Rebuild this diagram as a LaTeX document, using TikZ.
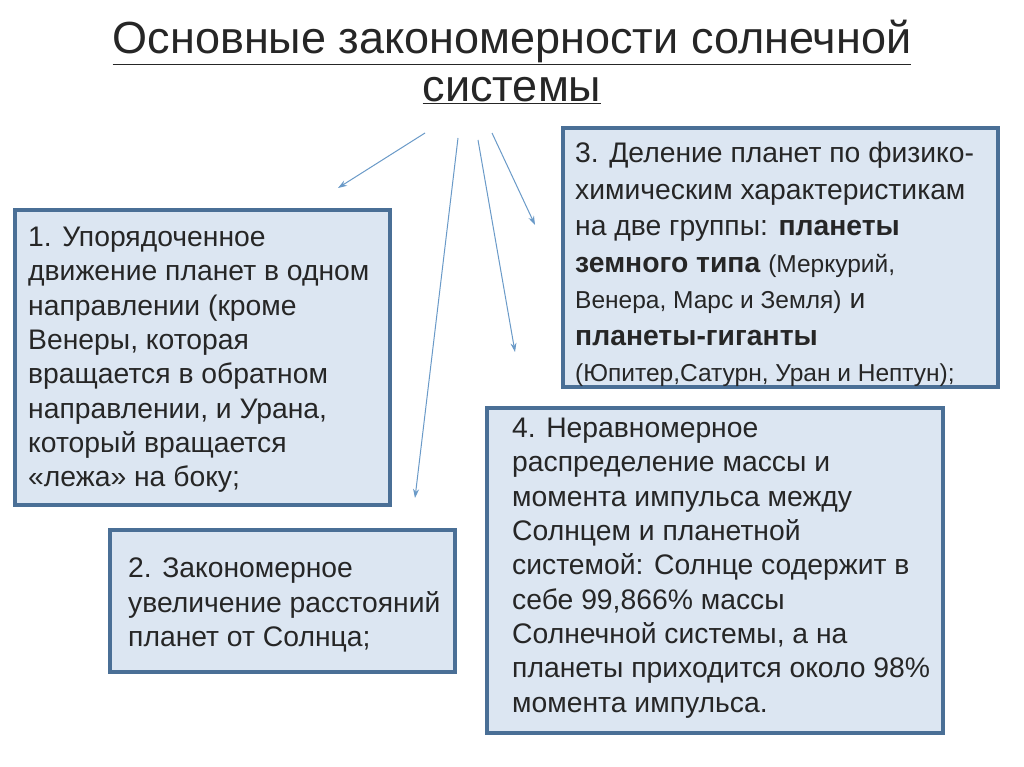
\documentclass[tikz,border=0pt]{standalone}
\usepackage{fontspec}
\setmainfont{Liberation Sans}
\usetikzlibrary{arrows.meta}
\definecolor{bfill}{HTML}{DCE6F2}
\definecolor{bdraw}{HTML}{4A6F96}
\definecolor{arr}{HTML}{6A9AC8}
\begin{document}
\begin{tikzpicture}[x=1pt,y=-1pt,
  box/.style={draw=bdraw,fill=bfill,line width=4pt},
  txt/.style={anchor=north west,align=left,inner sep=0pt,font=\fontsize{28.3}{34.3}\selectfont,text=black!85},
  arw/.style={draw=arr,line width=1pt,-{Stealth[length=9pt,width=6pt]}}]
\useasboundingbox[fill=white] (0,0) rectangle (1024,767);
\node[anchor=center,align=center,font=\fontsize{45}{48}\selectfont,text=black!85] (title) at (512,62)
 {\underline{Основные закономерности солнечной}\\\underline{системы}};
\draw[box] (15,210) rectangle (390,505);
\draw[box] (110,530) rectangle (455,672);
\draw[box] (563,128) rectangle (998,387);
\draw[box] (487,408) rectangle (943,733);
\node[txt] (t1) at (28,227) {1. Упорядоченное\\движение планет в одном\\направлении (кроме\\Венеры, которая\\вращается в обратном\\направлении, и Урана,\\который вращается\\«лежа» на боку;};
\node[txt] (t2) at (128,558) {2. Закономерное\\увеличение расстояний\\планет от Солнца;};
\node[txt,font=\fontsize{28.3}{36.5}\selectfont] (t3) at (575,142) {3. Деление планет по физико-\\химическим характеристикам\\на две группы: \textbf{планеты}\\\textbf{земного типа} {\fontsize{24.5}{20}\selectfont(Меркурий,}\\{\fontsize{24.5}{20}\selectfont Венера, Марс и Земля)} и\\\textbf{планеты-гиганты}\\{\fontsize{24.5}{20}\selectfont(Юпитер,Сатурн, Уран и Нептун);}};
\node[txt] (t4) at (512,418) {4. Неравномерное\\распределение массы и\\момента импульса между\\Солнцем и планетной\\системой: Солнце содержит в\\себе 99,866\% массы\\Солнечной системы, а на\\планеты приходится около 98\%\\момента импульса.};
\coordinate (s1) at (425,133); \coordinate (e1) at (338,188);
\coordinate (s2) at (458,138); \coordinate (e2) at (415,498);
\coordinate (s3) at (478,140); \coordinate (e3) at (515,352);
\coordinate (s4) at (492,133); \coordinate (e4) at (535,225);
\draw[arw] (s1) -- (e1);
\draw[arw] (s2) -- (e2);
\draw[arw] (s3) -- (e3);
\draw[arw] (s4) -- (e4);
\end{tikzpicture}
\end{document}
